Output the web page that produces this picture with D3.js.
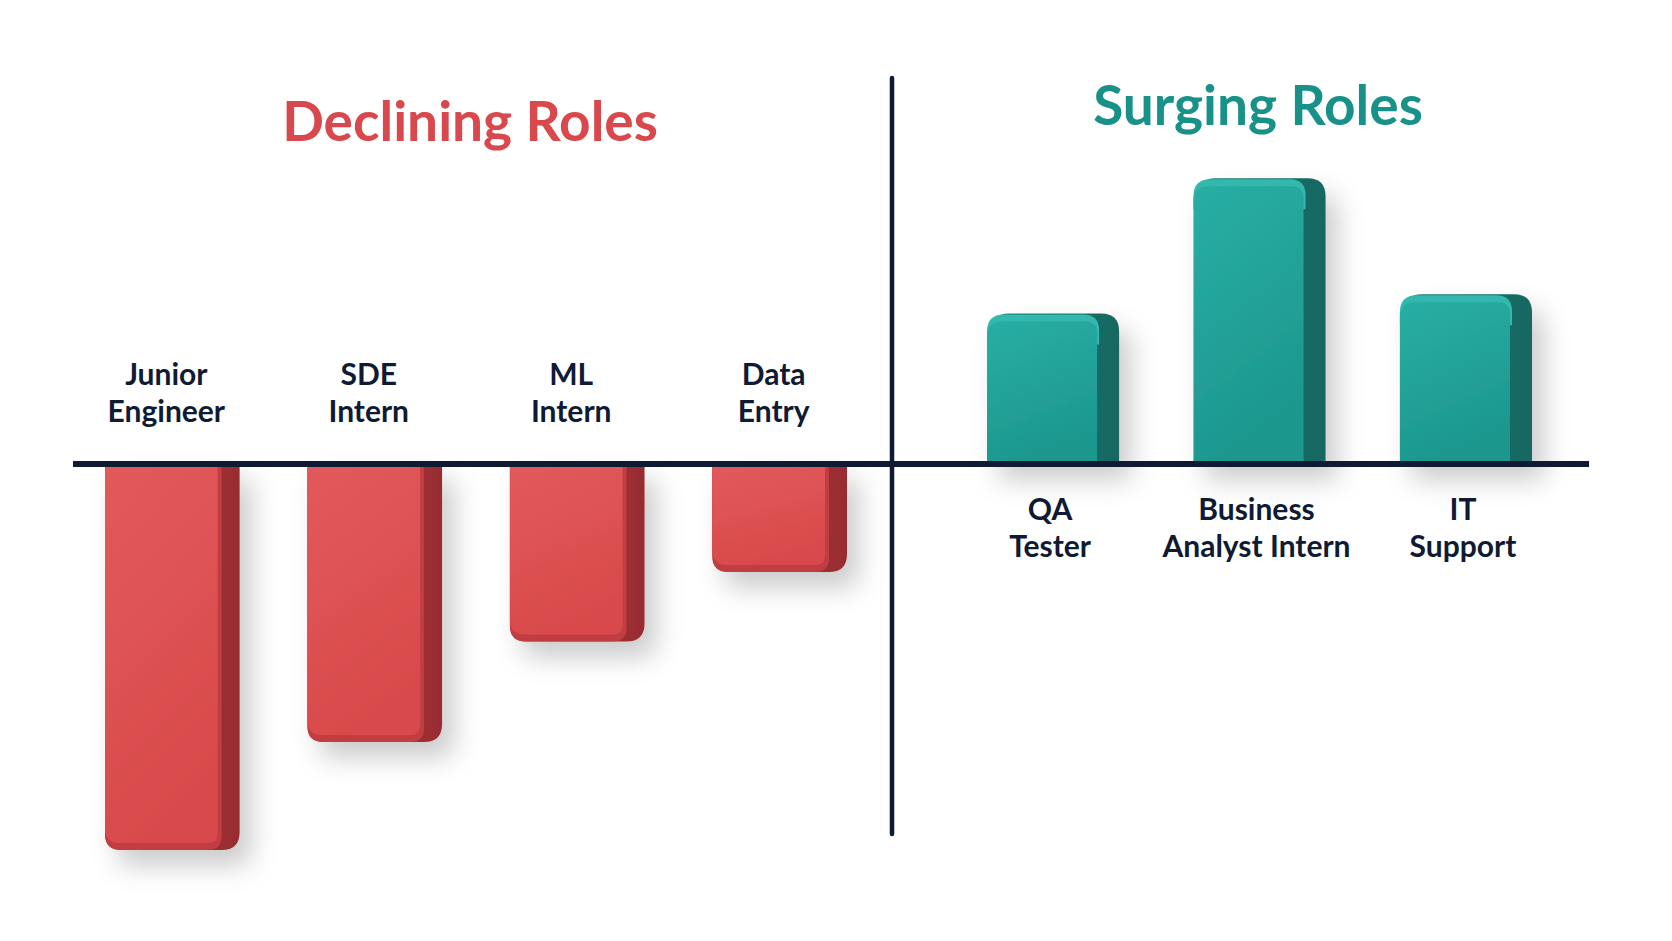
<!DOCTYPE html>
<html>
<head>
<meta charset="utf-8">
<script src="https://cdn.jsdelivr.net/npm/d3@7"></script>
<style>
  html, body { margin: 0; padding: 0; background: #ffffff; overflow: hidden; }
  text { font-family: Lato, "Open Sans", sans-serif; }
</style>
</head>
<body>
<script>
// data (relative units, Junior Engineer = -100)
const declineRoles = ["Junior Engineer", "SDE Intern", "ML Intern", "Data Entry"];
const declineLines = [["Junior", "Engineer"], ["SDE", "Intern"], ["ML", "Intern"], ["Data", "Entry"]];
const declineValues = [-100, -72, -46, -28];

const surgeRoles = ["QA Tester", "Business Analyst Intern", "IT Support"];
const surgeLines = [["QA", "Tester"], ["Business", "Analyst Intern"], ["IT", "Support"]];
const surgeValues = [39, 74, 44];

const titles = ["Declining Roles", "Surging Roles"];

const width = 1672, height = 941;
const svg = d3.select("body").append("svg")
              .attr("width", width)
              .attr("height", height);

const defs = svg.append("defs");

// soft shadow under the bars
const shadow = defs.append("filter").attr("id", "shadow")
                   .attr("x", "-40%").attr("y", "-40%").attr("width", "190%").attr("height", "190%");
shadow.append("feDropShadow")
      .attr("dx", 12).attr("dy", 16).attr("stdDeviation", 13)
      .attr("flood-color", "#000").attr("flood-opacity", 0.2);

function grad(id, c1, c2, x2, y2) {
  const g = defs.append("linearGradient").attr("id", id)
                .attr("x1", 0).attr("y1", 0).attr("x2", x2).attr("y2", y2);
  g.append("stop").attr("offset", "0%").attr("stop-color", c1);
  g.append("stop").attr("offset", "100%").attr("stop-color", c2);
}
grad("redFront", "#e35a5a", "#d84a4c", 0.3, 1);
grad("redSide", "#b23a3e", "#982c31", 1, 0);
grad("tealFront", "#29aea4", "#1c978e", 0.3, 1);
grad("tealSide", "#1a8078", "#136760", 1, 0);

// path for a rect with its own radius per corner [tl, tr, br, bl]
function rr(x, y, w, h, c) {
  const [tl, tr, br, bl] = c;
  const p = d3.path();
  p.moveTo(x + tl, y);
  p.lineTo(x + w - tr, y);
  p.quadraticCurveTo(x + w, y, x + w, y + tr);
  p.lineTo(x + w, y + h - br);
  p.quadraticCurveTo(x + w, y + h, x + w - br, y + h);
  p.lineTo(x + bl, y + h);
  p.quadraticCurveTo(x, y + h, x, y + h - bl);
  p.lineTo(x, y + tl);
  p.quadraticCurveTo(x, y, x + tl, y);
  p.closePath();
  return p.toString();
}

// scales
const y = d3.scaleLinear().domain([-100, 100]).range([850, 78]);
const baseY = y(0);

const xLeft = d3.scaleBand().domain(declineRoles)
                .range([72, 880]).paddingInner(0.335).paddingOuter(0.163);
const xRight = d3.scaleBand().domain(surgeRoles)
                 .range([955, 1564]).paddingInner(0.36).paddingOuter(0.155);

const side = 22;

// declining (negative) bars, hanging below the baseline
const leftBars = svg.append("g").attr("filter", "url(#shadow)");
declineRoles.forEach((c, i) => {
  const x0 = xLeft(c), w = xLeft.bandwidth(), yb = y(declineValues[i]);
  const h = yb - baseY;
  const g = leftBars.append("g");
  g.append("path").attr("d", rr(x0, baseY, w, h, [0, 0, 18, 16]))
   .attr("fill", "url(#redSide)");
  g.append("path").attr("d", rr(x0, baseY, w - side + 4, h, [0, 0, 14, 16]))
   .attr("fill", "#c23e42");
  g.append("path").attr("d", rr(x0, baseY, w - side, h - 7, [0, 0, 10, 15]))
   .attr("fill", "url(#redFront)");
});

// surging (positive) bars, standing on the baseline
const rightBars = svg.append("g").attr("filter", "url(#shadow)");
surgeRoles.forEach((c, i) => {
  const x0 = xRight(c), w = xRight.bandwidth(), yt = y(surgeValues[i]);
  const h = baseY - yt;
  const g = rightBars.append("g");
  g.append("path").attr("d", rr(x0 + 4, yt, w - 4, h, [18, 18, 0, 0]))
   .attr("fill", "url(#tealSide)");
  g.append("path").attr("d", rr(x0, yt + 1, w - side + 2, 30, [17, 16, 0, 0]))
   .attr("fill", "#30b8ad");
  g.append("path").attr("d", rr(x0, yt + 8, w - side, h - 8, [15, 12, 0, 0]))
   .attr("fill", "url(#tealFront)");
});

// baseline and divider
const ink = "#0f1a33";
svg.append("line")
   .attr("x1", 73).attr("x2", 1589)
   .attr("y1", baseY).attr("y2", baseY)
   .attr("stroke", ink).attr("stroke-width", 6);
svg.append("line")
   .attr("x1", 892).attr("x2", 892)
   .attr("y1", 78).attr("y2", 834)
   .attr("stroke", ink).attr("stroke-width", 4.5)
   .attr("stroke-linecap", "round");

// category labels
function labels(scale, cats, lines, firstBase, shift) {
  cats.forEach((c, i) => {
    const cx = scale(c) + scale.bandwidth() / 2 + shift;
    const t = svg.append("text")
                 .attr("x", cx)
                 .attr("y", firstBase)
                 .attr("text-anchor", "middle")
                 .attr("font-size", 30)
                 .attr("font-weight", 700)
                 .attr("fill", ink);
    lines[i].forEach((l, j) => {
      t.append("tspan").attr("x", cx).attr("dy", j ? 37 : 0).text(l);
    });
  });
}
labels(xLeft, declineRoles, declineLines, baseY - 79, -6);
labels(xRight, surgeRoles, surgeLines, baseY + 56, -3);

// section titles
svg.append("text").attr("x", 470).attr("y", 141)
   .attr("text-anchor", "middle").attr("font-size", 55).attr("font-weight", 700)
   .attr("fill", "#d9484c").text(titles[0]);
svg.append("text").attr("x", 1258).attr("y", 125)
   .attr("text-anchor", "middle").attr("font-size", 55).attr("font-weight", 700)
   .attr("fill", "#189189").text(titles[1]);
</script>
</body>
</html>
